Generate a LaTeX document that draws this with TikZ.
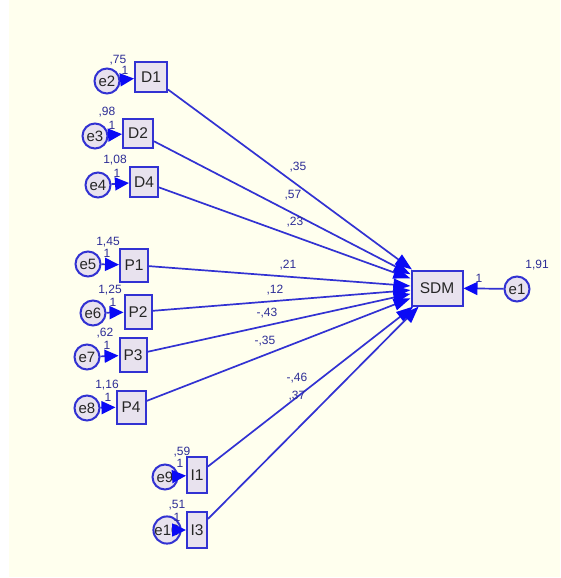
\documentclass[tikz,border=0pt]{standalone}
\usepackage{fontspec}
\setmainfont{Liberation Sans}
\usetikzlibrary{arrows.meta}
\definecolor{bg}{RGB}{255,255,238}
\definecolor{edge}{RGB}{50,50,210}
\definecolor{tip}{RGB}{10,10,245}
\definecolor{boxfill}{RGB}{232,226,238}
\definecolor{numcol}{RGB}{45,45,150}
\tikzset{
  obs/.style={draw=edge, line width=2pt, fill=boxfill, inner sep=0pt,
    font=\fontsize{15.5}{15.5}\selectfont, text=black!85},
  err/.style={circle, draw=edge, line width=2pt, fill=boxfill, inner sep=0pt,
    minimum size=25pt, font=\fontsize{15}{15}\selectfont, text=black!85},
  num/.style={font=\fontsize{12}{12}\selectfont, text=numcol, inner sep=0pt},
  path/.style={draw=edge, line width=1.7pt,
    -{Triangle[length=17pt,width=12pt,fill=tip,color=tip]}},
  epath/.style={draw=edge, line width=1.7pt,
    -{Triangle[length=14pt,width=13pt,fill=tip,color=tip]}}
}
\begin{document}
\begin{tikzpicture}[x=1pt,y=-1pt]
  % canvas
  \fill[white] (0,0) rectangle (560,578);
  \fill[bg] (9,0) rectangle (560,577);
  \useasboundingbox (0,0) rectangle (560,578);

  % observed indicators
  \node[obs, minimum width=32pt, minimum height=29pt] (D1) at (151,77) {D1};
  \node[obs, minimum width=30pt, minimum height=29pt] (D2) at (138,133) {D2};
  \node[obs, minimum width=28pt, minimum height=30pt] (D4) at (144,182) {D4};
  \node[obs, minimum width=28pt, minimum height=33pt] (P1) at (134,265) {P1};
  \node[obs, minimum width=27pt, minimum height=34pt] (P2) at (138,312) {P2};
  \node[obs, minimum width=27pt, minimum height=34pt] (P3) at (133,355) {P3};
  \node[obs, minimum width=29pt, minimum height=33pt] (P4) at (131,407) {P4};
  \node[obs, minimum width=20pt, minimum height=36pt] (I1) at (197,475) {I1};
  \node[obs, minimum width=20pt, minimum height=36pt] (I3) at (197,530) {I3};
  \node[obs, minimum width=51pt, minimum height=35pt] (SDM) at (437,288) {SDM};

  % error terms
  \node[err] (e2) at (107,81) {e2};
  \node[err] (e3) at (95,136) {e3};
  \node[err] (e4) at (98,185) {e4};
  \node[err] (e5) at (88,264) {e5};
  \node[err] (e6) at (93,313) {e6};
  \node[err] (e7) at (87,357) {e7};
  \node[err] (e8) at (87,408) {e8};
  \node[err] (e9) at (165,477) {e9};
  \node[err] (e10) at (167,530) {e10};
  \node[err] (e1) at (517,289) {e1};

  % regression paths into SDM
  \foreach \src in {D1,D2,D4,P1,P2,P3,P4,I1,I3}
    \draw[path] (\src) -- (SDM);

  % error paths
  \foreach \e/\v in {e2/D1,e3/D2,e4/D4,e5/P1,e6/P2,e7/P3,e8/P4,e9/I1,e10/I3,e1/SDM}
    \draw[epath] (\e) -- (\v);

  % variances of the error terms
  \node[num] (v2) at (118,60) {,75};
  \node[num] (v3) at (107,112) {,98};
  \node[num] (v4) at (115,160) {1,08};
  \node[num] (v5) at (108,242) {1,45};
  \node[num] (v6) at (110,290) {1,25};
  \node[num] (v7) at (105,333) {,62};
  \node[num] (v8) at (107,385) {1,16};
  \node[num] (v9) at (182,452) {,59};
  \node[num] (v10) at (177,505) {,51};
  \node[num] (v1) at (537,265) {1,91};

  % fixed error loadings
  \node[num] (f2) at (125,70) {1};
  \node[num] (f3) at (112,125) {1};
  \node[num] (f4) at (117,173) {1};
  \node[num] (f5) at (107,253) {1};
  \node[num] (f6) at (113,302) {1};
  \node[num] (f7) at (107,345) {1};
  \node[num] (f8) at (108,397) {1};
  \node[num] (f9) at (180,463) {1};
  \node[num] (f10) at (177,517) {1};
  \node[num] (f1) at (479,278) {1};

  % path coefficients
  \node[num] (w1) at (298,167) {,35};
  \node[num] (w2) at (293,195) {,57};
  \node[num] (w3) at (295,222) {,23};
  \node[num] (w4) at (288,265) {,21};
  \node[num] (w5) at (275,290) {,12};
  \node[num] (w6) at (267,313) {-,43};
  \node[num] (w7) at (265,341) {-,35};
  \node[num] (w8) at (297,378) {-,46};
  \node[num] (w9) at (297,396) {,37};
\end{tikzpicture}
\end{document}
